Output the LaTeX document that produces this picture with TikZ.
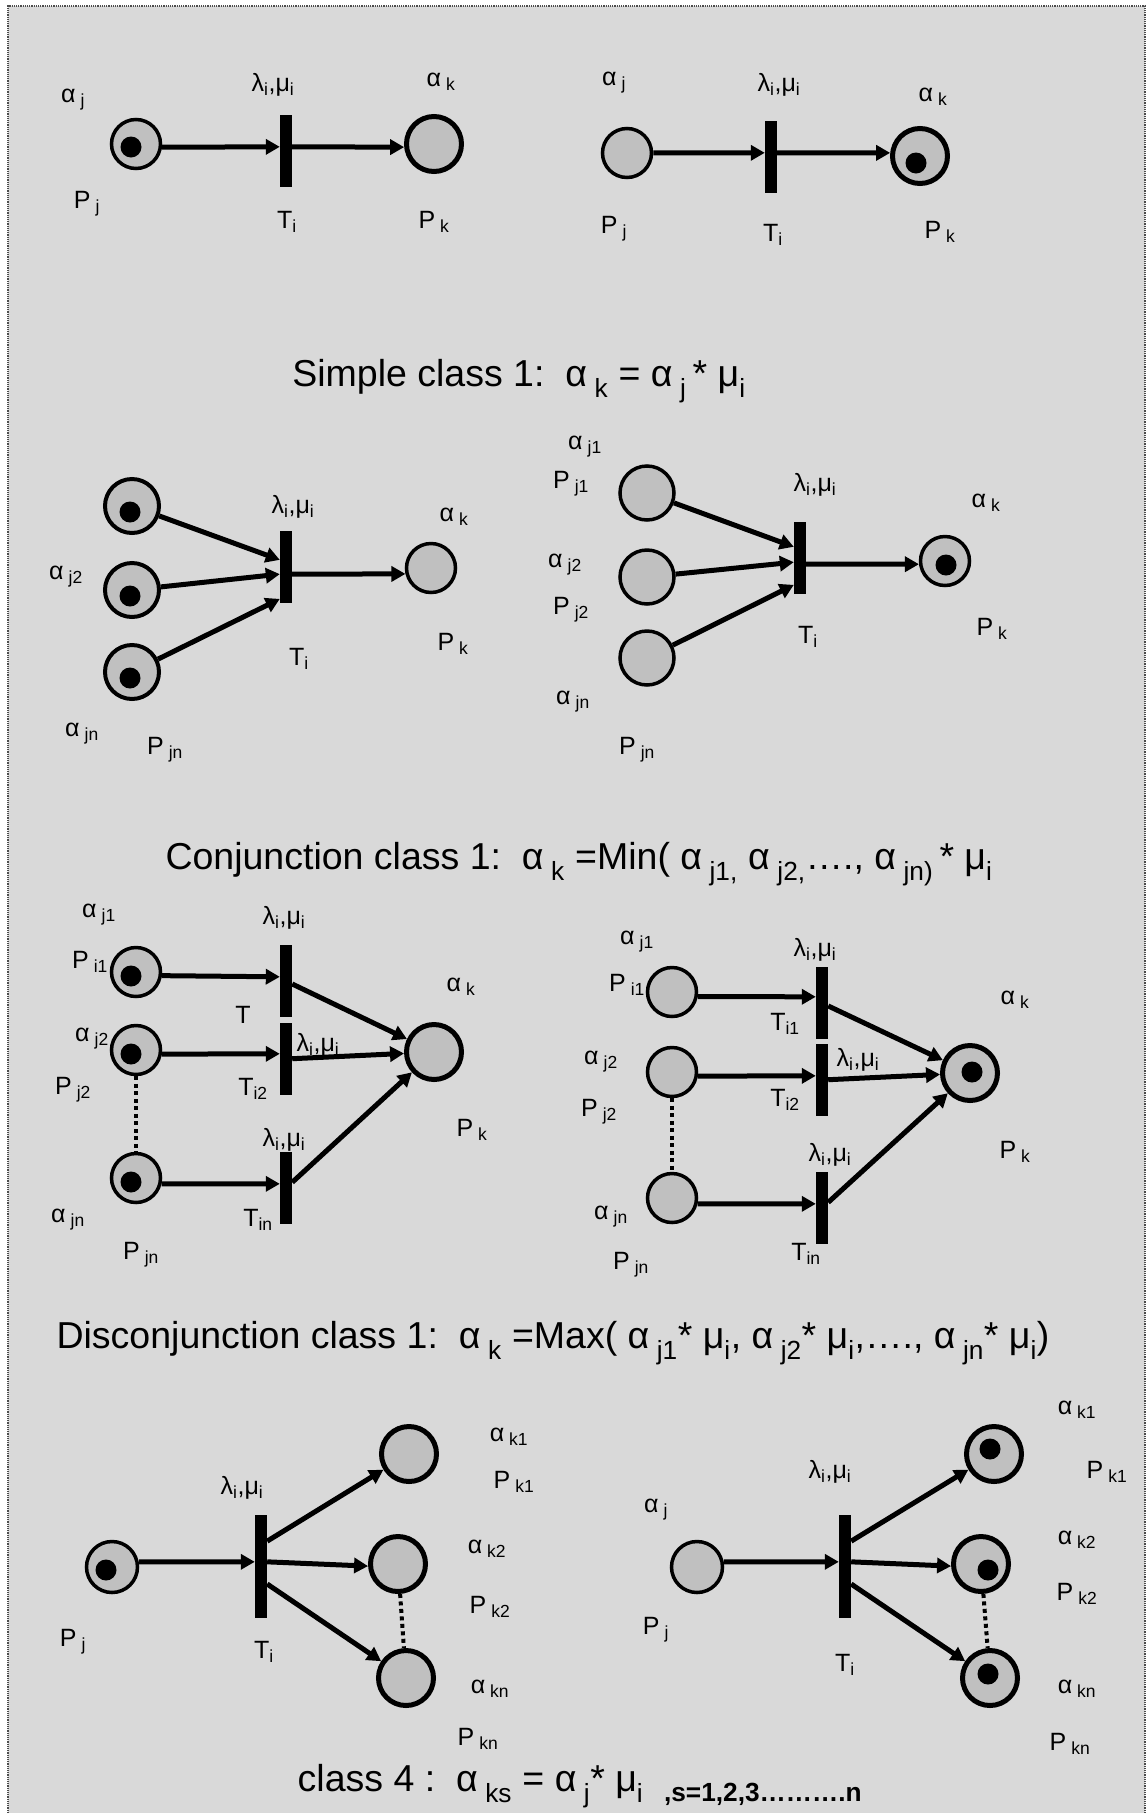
\documentclass[tikz,border=0pt]{standalone}
\usepackage{fontspec}
\setmainfont{Liberation Sans}
\usetikzlibrary{arrows.meta}
\definecolor{sheet}{HTML}{D9D9D9}
\definecolor{placefill}{HTML}{C0C0C0}
\newcommand{\lab}[2]{#1\hspace{0.2em}\textsubscript{#2}}
\newcommand{\rate}{λ\textsubscript{i},μ\textsubscript{i}}

\begin{document}
\begin{tikzpicture}[x=1pt,y=-1pt,>={Triangle[length=14pt,width=15pt]},font=\fontsize{25}{29}\selectfont,
 place/.style={circle,draw,fill=placefill,line width=3.5pt,minimum size=49pt,inner sep=0pt},
 large/.style={line width=4pt,minimum size=54pt},
 heavy/.style={line width=5pt,minimum size=55pt},
 tok/.style={circle,fill=black,minimum size=21pt,inner sep=0pt},
 bar/.style={fill=black,minimum width=12pt,minimum height=72pt,inner sep=0pt},
 tall/.style={minimum height=103pt},
 arc/.style={->,line width=5pt},
 link/.style={line width=4pt,dash pattern=on 4pt off 3.5pt},
 caption/.style={font=\fontsize{37.5}{44}\selectfont}]
\useasboundingbox (0,0) rectangle (1148,1813);
% Grey sheet and its dotted frame.
\fill[sheet] (8,6) rectangle (1145,1813);
\draw[black!70,densely dotted,line width=1.2pt] (8,1813) -- (8,6) -- (1145,6) -- (1145,1813);

% Simple class: before and after firing.
\node (a-aj) at (73,100) {\lab{α}{j}};
\node (a-rt) at (273,85) {\rate};
\node (a-ak) at (441,82) {\lab{α}{k}};
\node (a-pj) at (87,204) {\lab{P}{j}};
\node (a-ti) at (287,222) {T\textsubscript{i}};
\node (a-pk) at (434,222) {\lab{P}{k}};
\node[place] (a1) at (136,144) {};
\node[tok] (a1t) at (131,147) {};
\node[bar] (a2) at (286,151) {};
\node[place,heavy] (a3) at (434,144) {};
\draw[arc] (a1.-7) -- (a2.146);
\draw[arc] (a2.34) -- (a3.186);

\node (b-aj) at (614,83) {\lab{α}{j}};
\node (b-rt) at (779,85) {\rate};
\node (b-ak) at (933,97) {\lab{α}{k}};
\node (b-pj) at (614,229) {\lab{P}{j}};
\node (b-ti) at (773,235) {T\textsubscript{i}};
\node (b-pk) at (940,232) {\lab{P}{k}};
\node[place] (b1) at (627,153) {};
\node[bar] (b2) at (771,157) {};
\node[place,heavy] (b3) at (920,156) {};
\node[tok] (b3t) at (916,163) {};
\draw[arc] (b1) -- (b2.146);
\draw[arc] (b2.34) -- (b3.174);

\node[caption] (cap1) at (519,381) {Simple class 1:\ \ \lab{α}{k} = \lab{α}{j}\,* μ\textsubscript{i}};

% Conjunction class: before and after firing.
\node (c-a2) at (66,577) {\lab{α}{j2}};
\node (c-an) at (82,734) {\lab{α}{jn}};
\node (c-pn) at (165,750) {\lab{P}{jn}};
\node (c-rt) at (293,507) {\rate};
\node (c-ak) at (454,517) {\lab{α}{k}};
\node (c-ti) at (299,659) {T\textsubscript{i}};
\node (c-pk) at (453,644) {\lab{P}{k}};
\foreach \n/\y in {1/506,2/590,3/672}{
\node[place,large] (c\n) at (132,\y) {};
\node[tok] (c\n t) at (130,\y+6) {};}
\node[bar] (c4) at (286,567) {};
\node[place] (c5) at (431,568) {};
\foreach \n/\a in {1/131,2/229,3/259}{\draw[arc] (c\n) -- (c4.\a);}
\draw[arc] (c4.311) -- (c5.193);

\node (d-a1) at (585,447) {\lab{α}{j1}};
\node (d-p1) at (571,484) {\lab{P}{j1}};
\node (d-a2) at (565,565) {\lab{α}{j2}};
\node (d-p2) at (571,610) {\lab{P}{j2}};
\node (d-an) at (573,702) {\lab{α}{jn}};
\node (d-pn) at (637,750) {\lab{P}{jn}};
\node (d-rt) at (815,485) {\rate};
\node (d-ak) at (986,503) {\lab{α}{k}};
\node (d-ti) at (808,637) {T\textsubscript{i}};
\node (d-pk) at (992,629) {\lab{P}{k}};
\foreach \n/\y in {1/493,2/577,3/658}{\node[place,large,line width=3.5pt] (d\n) at (647,\y) {};}
\node[bar] (d4) at (800,558) {};
\node[place] (d5) at (945,561) {};
\node[tok] (d5t) at (946,565) {};
\foreach \n/\a in {1/119,2/214,3/257}{\draw[arc] (d\n) -- (d4.\a);}
\draw[arc] (d4.315) -- (d5.187);

\node[caption] (cap2) at (579,864) {Conjunction class 1:\ \ \lab{α}{k} =Min( \lab{α}{j1,} \lab{α}{j2,}…., \lab{α}{jn)}\,* μ\textsubscript{i}};

% Disconjunction class: before and after firing.
\node (e-a1) at (99,915) {\lab{α}{j1}};
\node (e-p1) at (90,962) {\lab{P}{i1}};
\node (e-a2) at (92,1039) {\lab{α}{j2}};
\node (e-p2) at (73,1090) {\lab{P}{j2}};
\node (e-an) at (68,1220) {\lab{α}{jn}};
\node (e-pn) at (141,1255) {\lab{P}{jn}};
\node (e-r1) at (284,918) {\rate};
\node (e-t1) at (243,1015) {T};
\node (e-r2) at (318,1045) {\rate};
\node (e-t2) at (253,1089) {T\textsubscript{i2}};
\node (e-r3) at (284,1140) {\rate};
\node (e-tn) at (258,1220) {T\textsubscript{in}};
\node (e-ak) at (461,987) {\lab{α}{k}};
\node (e-pk) at (472,1130) {\lab{P}{k}};
\foreach \n/\y in {1/972,2/1050,3/1178}{
\node[place] (e\n) at (136,\y) {};
\node[tok] (e\n t) at (131,\y+4) {};}
\foreach \n/\y in {4/981,5/1059,6/1188}{\node[bar] (e\n) at (286,\y) {};}
\node[place,heavy] (e7) at (434,1052) {};
\draw[link] (e2) -- (e3);
\foreach \n/\s/\b/\a in {1/-8/4/146,2/-9/5/140,3/-13/6/146}{\draw[arc] (e\n.\s) -- (e\b.\a);}
\foreach \b in {4,5,6}{\draw[arc] (e\b) -- (e7);}

\node (f-a1) at (637,942) {\lab{α}{j1}};
\node (f-p1) at (627,985) {\lab{P}{i1}};
\node (f-a2) at (601,1062) {\lab{α}{j2}};
\node (f-p2) at (599,1112) {\lab{P}{j2}};
\node (f-an) at (611,1217) {\lab{α}{jn}};
\node (f-pn) at (631,1265) {\lab{P}{jn}};
\node (f-r1) at (815,950) {\rate};
\node (f-t1) at (785,1024) {T\textsubscript{i1}};
\node (f-r2) at (858,1060) {\rate};
\node (f-t2) at (785,1100) {T\textsubscript{i2}};
\node (f-r3) at (830,1155) {\rate};
\node (f-tn) at (806,1254) {T\textsubscript{in}};
\node (f-ak) at (1015,1000) {\lab{α}{k}};
\node (f-pk) at (1015,1152) {\lab{P}{k}};
\foreach \n/\y in {1/992,2/1072,3/1198}{\node[place] (f\n) at (672,\y) {};}
\foreach \n/\y in {4/1003,5/1080,6/1208}{\node[bar] (f\n) at (822,\y) {};}
\node[place,heavy] (f7) at (970,1073) {};
\node[tok] (f7t) at (972,1072) {};
\draw[link] (f2) -- (f3);
\foreach \n/\s/\b/\a in {1/-10/4/135,2/-9/5/146,3/-13/6/146}{\draw[arc] (f\n.\s) -- (f\b.\a);}
\foreach \b in {4,5,6}{\draw[arc] (f\b) -- (f7);}

\node[caption] (cap3) at (553,1343) {Disconjunction class 1:\ \ \lab{α}{k} =Max( \lab{α}{j1}* μ\textsubscript{i}, \lab{α}{j2}* μ\textsubscript{i},…., \lab{α}{jn}* μ\textsubscript{i})};

% Class 4: one input place, several output places.
\node (g-rt) at (242,1488) {\rate};
\node (g-ti) at (264,1652) {T\textsubscript{i}};
\node (g-pj) at (73,1642) {\lab{P}{j}};
\node (g-a1) at (509,1437) {\lab{α}{k1}};
\node (g-p1) at (514,1482) {\lab{P}{k1}};
\node (g-a2) at (487,1549) {\lab{α}{k2}};
\node (g-p2) at (490,1607) {\lab{P}{k2}};
\node (g-an) at (490,1689) {\lab{α}{kn}};
\node (g-pn) at (478,1739) {\lab{P}{kn}};
\node[place,minimum size=51pt] (g1) at (112,1567) {};
\node[tok] (g1t) at (106,1570) {};
\node[bar,tall] (g2) at (261,1566) {};
\node[place,heavy] (g3) at (409,1454) {};
\node[place,heavy] (g4) at (398,1564) {};
\node[place,heavy] (g5) at (406,1678) {};
\draw[link] (g4) -- (g5);
\draw[arc] (g1.11) -- (g2.146);
\draw[arc] (g2.76) -- (g3);
\draw[arc] (g2.34) -- (g4.184);
\draw[arc] (g2.289) -- (g5);

\node (h-aj) at (656,1510) {\lab{α}{j}};
\node (h-pj) at (656,1630) {\lab{P}{j}};
\node (h-rt) at (830,1472) {\rate};
\node (h-ti) at (845,1665) {T\textsubscript{i}};
\node (h-a1) at (1077,1410) {\lab{α}{k1}};
\node (h-p1) at (1107,1472) {\lab{P}{k1}};
\node (h-a2) at (1077,1540) {\lab{α}{k2}};
\node (h-p2) at (1077,1594) {\lab{P}{k2}};
\node (h-an) at (1077,1689) {\lab{α}{kn}};
\node (h-pn) at (1070,1744) {\lab{P}{kn}};
\node[place,minimum size=51pt] (h1) at (697,1567) {};
\node[bar,tall] (h2) at (845,1566) {};
\node[place,heavy] (h3) at (994,1454) {};
\node[place,heavy] (h4) at (981,1564) {};
\node[place,heavy] (h5) at (990,1678) {};
\node[tok] (h3t) at (990,1449) {};
\node[tok] (h4t) at (988,1570) {};
\node[tok] (h5t) at (988,1674) {};
\draw[link] (h4) -- (h5);
\draw[arc] (h1.11) -- (h2.146);
\draw[arc] (h2.76) -- (h3);
\draw[arc] (h2.34) -- (h4.184);
\draw[arc] (h2.289) -- (h5);

\node[caption] (cap4) at (580,1786) {class 4 :\ \ \lab{α}{ks} = \lab{α}{j}* μ\textsubscript{i}\ \ \textsubscript{\bfseries ,s=1,2,3……….n}};
\end{tikzpicture}
\end{document}
